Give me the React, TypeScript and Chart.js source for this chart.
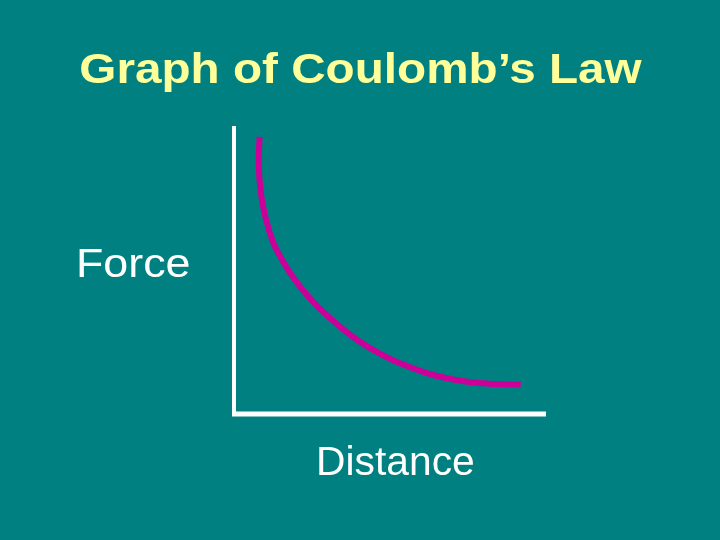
import React, { useEffect, useRef } from "react";
import { Chart, registerables } from "chart.js";

Chart.register(...registerables);

const titleText = "Graph of Coulomb’s Law";
const yLabel = "Force";
const xLabel = "Distance";

const distance = [0.82, 0.79, 0.87, 1.03, 1.25, 1.47, 1.72, 2.01, 2.34, 2.71, 3.13, 3.58, 4.06, 4.63, 5.24, 6.3, 7.36, 8.42, 9.19];
const force = [9.62, 8.65, 7.6, 6.74, 5.97, 5.49, 5.03, 4.58, 4.13, 3.7, 3.28, 2.87, 2.49, 2.12, 1.8, 1.38, 1.14, 1.04, 1.02];

const BG = "#008080";
const TITLE_COLOR = "#FFFF99";
const CURVE_COLOR = "#CC0099";

const decorPlugin = {
  id: "decor",
  beforeDraw(chart: any) {
    const { ctx, width, height } = chart;
    ctx.save();
    ctx.fillStyle = BG;
    ctx.fillRect(0, 0, width, height);
    ctx.restore();
  },
  beforeDatasetsDraw(chart: any) {
    const { ctx, chartArea } = chart;
    const xs = chart.scales.x;
    const ys = chart.scales.y;
    const x0 = xs.getPixelForValue(0);
    const y0 = ys.getPixelForValue(0);
    ctx.save();
    ctx.strokeStyle = "#FFFFFF";
    ctx.lineWidth = 4;
    ctx.lineCap = "butt";
    ctx.beginPath();
    ctx.moveTo(x0, chartArea.top);
    ctx.lineTo(x0, y0 + 2);
    ctx.stroke();
    ctx.lineWidth = 5;
    ctx.beginPath();
    ctx.moveTo(x0 - 2, y0);
    ctx.lineTo(chartArea.right, y0);
    ctx.stroke();
    ctx.restore();
  },
  afterDraw(chart: any) {
    const { ctx } = chart;
    const drawText = (text: string, x: number, y: number, font: string, color: string, sx: number, align: CanvasTextAlign) => {
      ctx.save();
      ctx.translate(x, y);
      ctx.scale(sx, 1);
      ctx.font = font;
      ctx.fillStyle = color;
      ctx.textAlign = align;
      ctx.textBaseline = "alphabetic";
      ctx.fillText(text, 0, 0);
      ctx.restore();
    };
    const family = '"Liberation Sans", Arial, sans-serif';
    drawText(titleText, 360.5, 83, `bold 42px ${family}`, TITLE_COLOR, 1.135, "center");
    drawText(yLabel, 76, 277, `40px ${family}`, "#FFFFFF", 1.12, "left");
    drawText(xLabel, 316, 475, `40px ${family}`, "#FFFFFF", 1.02, "left");
  },
};

export default function App() {
  const ref = useRef<HTMLCanvasElement | null>(null);
  useEffect(() => {
    if (!ref.current) return;
    const chart = new Chart(ref.current, {
      type: "scatter",
      data: {
        datasets: [
          {
            label: "Force vs Distance",
            data: distance.map((d, i) => ({ x: d, y: force[i] })),
            showLine: true,
            borderColor: CURVE_COLOR,
            backgroundColor: CURVE_COLOR,
            borderWidth: 6,
            pointRadius: 0,
            tension: 0.4,
            fill: false,
          },
        ],
      },
      options: {
        animation: false,
        responsive: false,
        maintainAspectRatio: false,
        layout: { padding: { left: 234, right: 174, top: 126, bottom: 126 }, autoPadding: false },
        plugins: {
          legend: { display: false },
          title: { display: false },
          tooltip: { enabled: false },
        },
        scales: {
          x: { type: "linear", min: 0, max: 10, display: false },
          y: { type: "linear", min: 0, max: 10, display: false },
        },
      },
      plugins: [decorPlugin],
    });
    return () => chart.destroy();
  }, []);
  return (
    <div style={{ position: "absolute", left: 0, top: 0, width: 720, height: 540, background: BG }}>
      <canvas ref={ref} width={720} height={540} style={{ display: "block", width: 720, height: 540 }} />
    </div>
  );
}
